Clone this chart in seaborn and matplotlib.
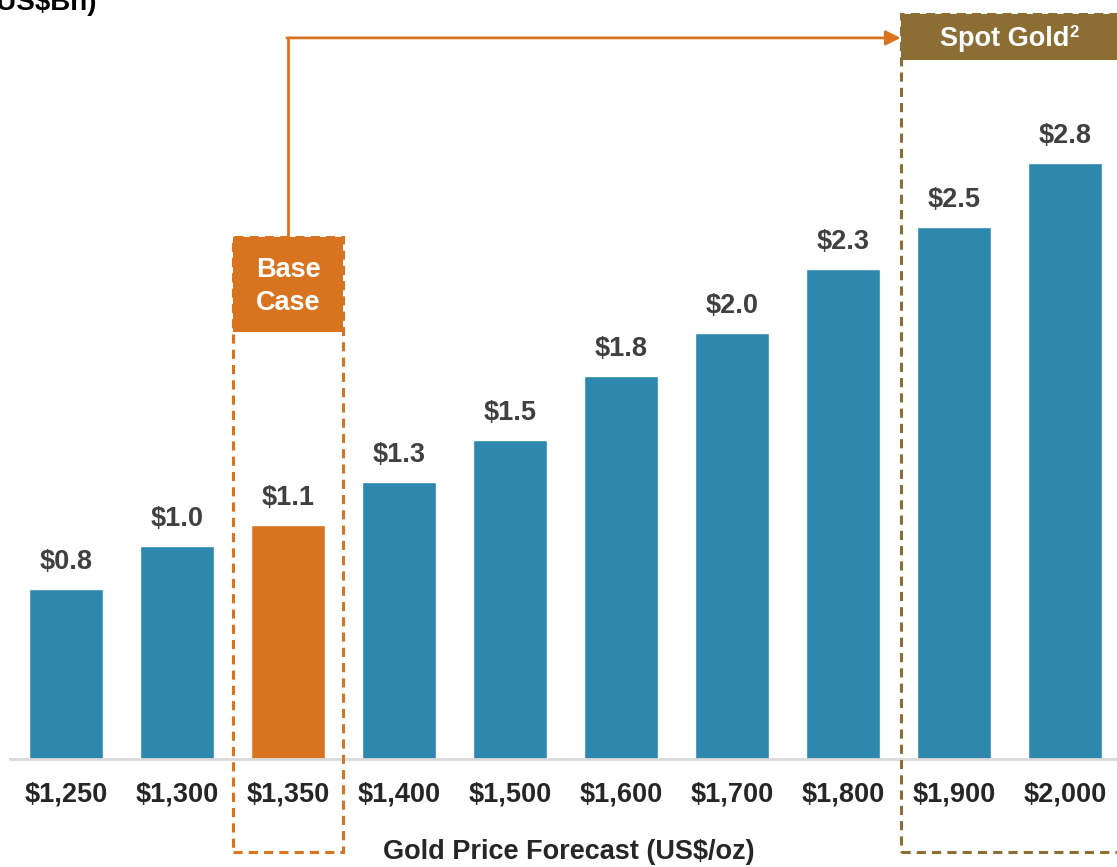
"""
NPV sensitivity to gold price: bar chart with Base Case / Spot Gold call-outs.
"""

import matplotlib
matplotlib.use("Agg")

import matplotlib.pyplot as plt
from matplotlib.patches import Rectangle
import seaborn as sns
import pandas as pd

# ── Data ──
gold_prices = ["$1,250", "$1,300", "$1,350", "$1,400", "$1,500",
               "$1,600", "$1,700", "$1,800", "$1,900", "$2,000"]
npv_values = [0.8, 1.0, 1.1, 1.3, 1.5, 1.8, 2.0, 2.3, 2.5, 2.8]
value_labels = ["$0.8", "$1.0", "$1.1", "$1.3", "$1.5",
                "$1.8", "$2.0", "$2.3", "$2.5", "$2.8"]
base_case = "$1,350"
spot_gold = ["$1,900", "$2,000"]

# ── Style ──
BLUE = "#2E87AD"
ORANGE = "#D8741F"
GOLD = "#8C6E34"
LABEL_GREY = "#404040"

sns.set_style("white")
plt.rcParams["font.family"] = ["Liberation Sans", "DejaVu Sans"]

df = pd.DataFrame({"price": gold_prices, "npv": npv_values})
palette = {p: (ORANGE if p == base_case else BLUE) for p in gold_prices}

fig = plt.figure(figsize=(11.17, 8.67), dpi=100)
ax = fig.add_axes([10 / 1117, 108 / 867, 1107 / 1117, 759 / 867])

sns.barplot(data=df, x="price", y="npv", hue="price", palette=palette,
            legend=False, width=0.667, saturation=1, ax=ax)

ax.set_xlim(-0.505, 9.47)
ax.set_ylim(0, 3.565)

# value labels
for i, (v, lbl) in enumerate(zip(npv_values, value_labels)):
    ax.text(i, v + 0.065, lbl, ha="center", va="bottom", fontsize=19.5,
            fontweight="bold", color=LABEL_GREY)

# axes cosmetics
for side in ["top", "right", "left"]:
    ax.spines[side].set_visible(False)
ax.spines["bottom"].set_color("#D9D9D9")
ax.spines["bottom"].set_linewidth(2)
ax.set_yticks([])
ax.tick_params(axis="x", length=0, pad=16)
for t in ax.get_xticklabels():
    t.set_fontsize(19.5)
    t.set_fontweight("bold")
ax.set_xlabel("Gold Price Forecast (US$/oz)", fontsize=19.5, fontweight="bold")
ax.xaxis.set_label_coords(0.505, -0.106)
ax.set_ylabel("")

# ── Base case call-out ──
b = gold_prices.index(base_case)
ax.add_patch(Rectangle((b - 0.5, 2.006), 1.0, 2.452 - 2.006, facecolor=ORANGE,
                       edgecolor="none", clip_on=False, zorder=3))
ax.add_patch(Rectangle((b - 0.5, -0.437), 1.0, 2.452 + 0.437, fill=False,
                       edgecolor=ORANGE, lw=2.2, linestyle=(0, (3, 2)),
                       clip_on=False, zorder=4))
ax.text(b, 2.22, "Base\nCase", ha="center", va="center", fontsize=19.5,
        fontweight="bold", color="white", linespacing=1.32, zorder=5)

# ── Spot gold call-out ──
s0 = gold_prices.index(spot_gold[0])
ax.add_patch(Rectangle((s0 - 0.48, 3.283), 2.5, 3.499 - 3.283, facecolor=GOLD,
                       edgecolor="none", clip_on=False, zorder=3))
ax.add_patch(Rectangle((s0 - 0.48, -0.437), 2.5, 3.499 + 0.437, fill=False,
                       edgecolor=GOLD, lw=2.2, linestyle=(0, (3, 2)),
                       clip_on=False, zorder=4))
spot_txt = ax.text(s0 + 0.46, 3.38, "Spot Gold", ha="center", va="center",
                   fontsize=19.5, fontweight="bold", color="white", zorder=5)
ax.annotate("2", xy=(1.0, 0.78), xycoords=spot_txt, xytext=(-0.5, 0),
            textcoords="offset points", ha="left", va="center", fontsize=12,
            fontweight="bold", color="white", zorder=5)

# connector arrow
ax.plot([b, b], [2.452, 3.387], color=ORANGE, lw=2, clip_on=False, zorder=2)
ax.annotate("", xy=(s0 - 0.48, 3.387), xytext=(b - 0.01, 3.387),
            arrowprops=dict(arrowstyle="-|>", color=ORANGE, lw=2,
                            mutation_scale=22, shrinkA=0, shrinkB=0),
            annotation_clip=False, zorder=2)

# heading at top-left, cut off by the top edge as in the source slide
fig.text(97 / 1117, 1 - 10 / 867, "(US$Bn)", ha="right", va="baseline",
         fontsize=20, fontweight="bold", color="black")

fig.savefig("out.png", dpi=100)
plt.close(fig)
